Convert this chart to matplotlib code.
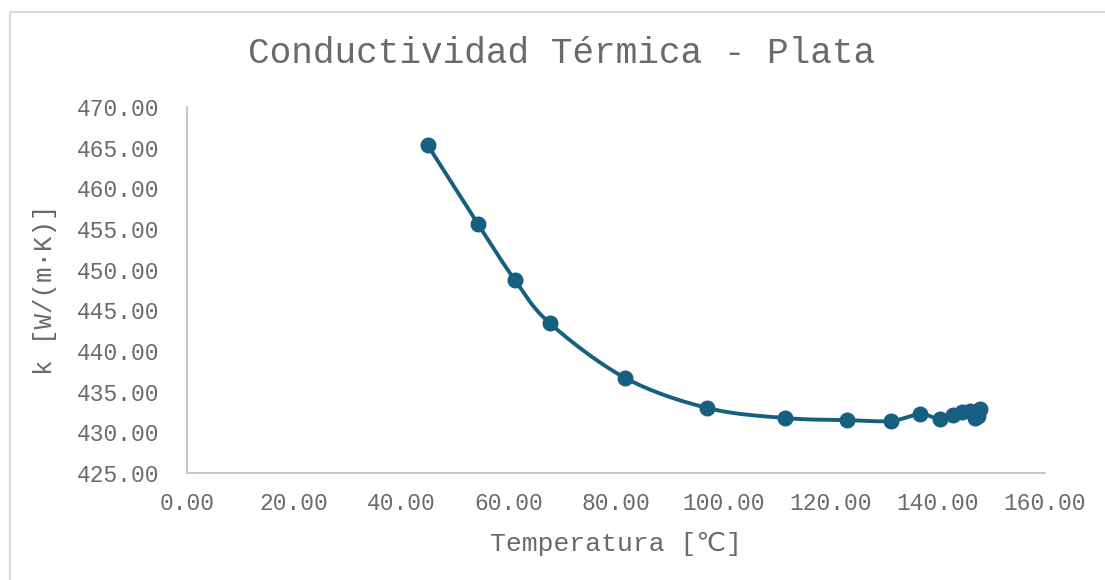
import numpy as np
import matplotlib.pyplot as plt
from matplotlib.patches import Rectangle

# Plata: temperatura vs conductividad
temperatura = [44.9, 54.3, 61.2, 67.7, 81.7, 97.0, 111.5, 123.1, 131.3, 136.7,
               140.4, 142.8, 144.5, 146.0, 147.0, 147.5, 147.9]
conductividad = [465.33, 455.6, 448.7, 443.4, 436.7, 433.0, 431.76, 431.5, 431.4, 432.25,
                 431.6, 432.1, 432.5, 432.6, 431.7, 432.0, 432.9]

xticks = [0, 20, 40, 60, 80, 100, 120, 140, 160]
yticks = [425, 430, 435, 440, 445, 450, 455, 460, 465, 470]

color = '#175F80'
gris = '#6A6A6A'
fuente = ['Liberation Mono', 'DejaVu Sans']


def suavizar(x, y, n=30):
    # curva tipo Catmull-Rom (linea suavizada de Excel)
    p = np.column_stack([x, y]).astype(float)
    p = np.vstack([p[0], p, p[-1]])
    out = []
    for i in range(1, len(p) - 2):
        p0, p1, p2, p3 = p[i - 1], p[i], p[i + 1], p[i + 2]
        c1 = p1 + (p2 - p0) / 6
        c2 = p2 - (p3 - p1) / 6
        t = np.linspace(0, 1, n)[:, None]
        seg = ((1 - t) ** 3) * p1 + 3 * ((1 - t) ** 2) * t * c1 + 3 * (1 - t) * t ** 2 * c2 + t ** 3 * p2
        out.append(seg)
    out = np.vstack(out)
    return out[:, 0], out[:, 1]


fig = plt.figure(figsize=(11.05, 5.8), dpi=100)
ax = fig.add_axes([0.169, 0.1845, 0.7767, 0.631])

sx, sy = suavizar(temperatura, conductividad)
ax.plot(sx, sy, color=color, lw=2.8, zorder=2)
ax.plot(temperatura, conductividad, 'o', color=color, ms=10.5, zorder=3)

ax.set_xlim(0, 160)
ax.set_ylim(425, 470)
ax.set_xticks(xticks)
ax.set_yticks(yticks)
ax.set_xticklabels([f'{v:.2f}' for v in xticks], family=fuente, fontsize=16.5, color=gris)
ax.set_yticklabels([f'{v:.2f}' for v in yticks], family=fuente, fontsize=16.5, color=gris)
ax.tick_params(length=0)
ax.tick_params(axis='x', pad=14)
ax.tick_params(axis='y', pad=20)

for s in ['top', 'right']:
    ax.spines[s].set_visible(False)
for s in ['left', 'bottom']:
    ax.spines[s].set_color('#BFBFBF')
    ax.spines[s].set_linewidth(1.2)

ax.set_xlabel('Temperatura [℃]', family=fuente, fontsize=19, color=gris, labelpad=12)
ax.set_ylabel('k [W/(m·K)]', family=fuente, fontsize=18.5, color=gris, labelpad=14)
fig.text(0.508, 0.908, 'Conductividad Térmica - Plata', family=fuente, fontsize=26,
         color=gris, ha='center', va='center')

# borde del grafico
fig.patches.append(Rectangle((10 / 1105, -0.05), 1.2, 1 - 12 / 580 + 0.05,
                             transform=fig.transFigure, fill=False,
                             edgecolor='#D9D9D9', lw=1.5))

fig.savefig('out.png', dpi=100)
